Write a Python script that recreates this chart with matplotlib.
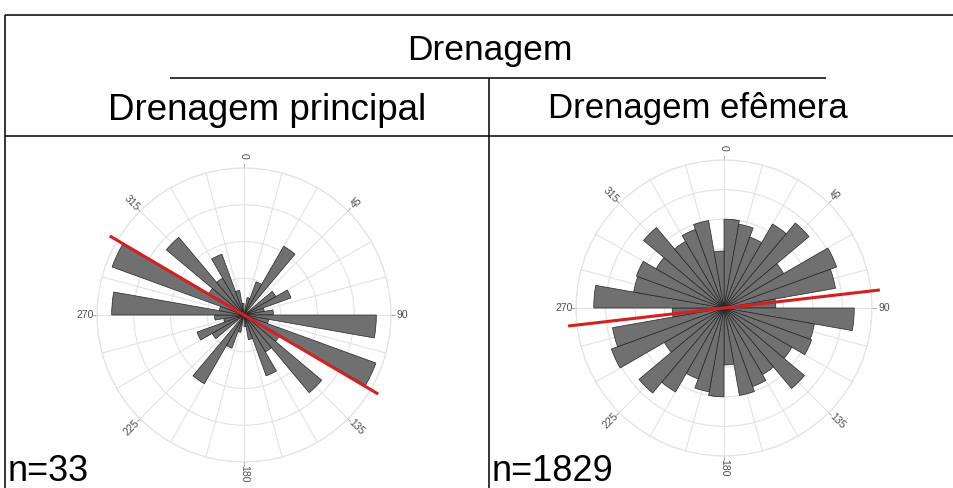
import numpy as np
import matplotlib
matplotlib.use("Agg")
import matplotlib.pyplot as plt

plt.rcParams['font.family'] = ['Liberation Sans', 'DejaVu Sans']

W, H = 954, 488
DPI = 100

# 10-degree azimuth classes (0-180); the rose is bidirectional, so each
# class is mirrored onto the opposite direction.
bin_starts = np.arange(0, 180, 10)

# Bar lengths, as a fraction of the outer ring
principal_len = [0.00, 0.12, 0.24, 0.54, 0.00, 0.25, 0.34, 0.14, 0.20,
                 0.90, 0.17, 0.955, 0.28, 0.69, 0.29, 0.44, 0.17, 0.08]
efemera_len = [0.60, 0.575, 0.51, 0.655, 0.75, 0.465, 0.81, 0.765, 0.35,
               0.88, 0.62, 0.63, 0.53, 0.71, 0.52, 0.565, 0.60, 0.385]

# Mean directions (degrees from north, clockwise)
principal_mean = 120.5
efemera_mean = 83.4

principal_rings = [0.25, 0.5, 0.75, 1.0]
efemera_rings = [0.2, 0.4, 0.6, 0.8, 1.0]

principal_n = 33
efemera_n = 1829

header = "Drenagem"
col_titles = ["Drenagem principal", "Drenagem efêmera"]
angle_labels = [0, 45, 90, 135, 180, 225, 270, 315]

fig = plt.figure(figsize=(W / DPI, H / DPI), dpi=DPI)

# Background axes in pixel units for the table frame and text
bg = fig.add_axes([0, 0, 1, 1])
bg.set_xlim(0, W)
bg.set_ylim(H, 0)
bg.axis('off')

line_kw = dict(color='black', lw=1.1, solid_capstyle='butt')
bg.plot([5, W], [15, 15], **line_kw)
bg.plot([5, 5], [15, H], **line_kw)
bg.plot([170, 826], [78, 78], **line_kw)
bg.plot([489, 489], [78, H], **line_kw)
bg.plot([5, W], [136, 136], **line_kw)

bg.text(490, 60, header, ha='center', va='baseline', fontsize=25.5)
bg.text(267, 120, col_titles[0], ha='center', va='baseline', fontsize=26.5)
bg.text(698, 118, col_titles[1], ha='center', va='baseline', fontsize=25)
bg.text(8, 481, f"n={principal_n}", ha='left', va='baseline', fontsize=26)
bg.text(492, 481, f"n={efemera_n}", ha='left', va='baseline', fontsize=26)


def rose(center, radius, lengths, mean_dir, rings):
    cx, cy = center
    rect = [(cx - radius) / W, (H - cy - radius) / H, 2 * radius / W, 2 * radius / H]
    ax = fig.add_axes(rect, projection='polar')
    ax.set_theta_zero_location('N')
    ax.set_theta_direction(-1)
    ax.set_facecolor('none')
    ax.set_axisbelow(True)

    starts = np.concatenate([bin_starts, bin_starts + 180])
    vals = np.concatenate([lengths, lengths])
    ax.bar(np.radians(starts + 5), vals, width=np.radians(10), bottom=0,
           color='#707070', edgecolor='#262626', linewidth=0.5, zorder=2)

    ax.set_ylim(0, 1)
    ax.set_yticks(rings)
    ax.set_yticklabels([])
    ax.set_xticks(np.radians(np.arange(0, 360, 15)))
    ax.set_xticklabels([])
    ax.tick_params(length=0)
    ax.grid(color='#e2e2e2', lw=0.8)
    ax.spines['polar'].set_color('#e2e2e2')
    ax.spines['polar'].set_linewidth(0.8)

    for a in angle_labels:
        t = np.radians(a)
        ax.plot([t, t], [1.0, 1.025], color='#9a9a9a', lw=0.6, clip_on=False, zorder=1)
        rot = ((90 - a) + 90) % 180 - 90
        ax.text(t, 1.08, str(a), rotation=rot, rotation_mode='anchor',
                ha='center', va='center', fontsize=7.5, color='#4d4d4d', clip_on=False)

    m = np.radians(mean_dir)
    ax.plot([m + np.pi, 0, m], [1.06, 0, 1.06], color='#d42020', lw=2.2,
            solid_capstyle='butt', clip_on=False, zorder=3)
    return ax


rose((244, 315), 147, principal_len, principal_mean, principal_rings)
rose((724, 308), 148, efemera_len, efemera_mean, efemera_rings)

fig.savefig("out.png", dpi=DPI)
